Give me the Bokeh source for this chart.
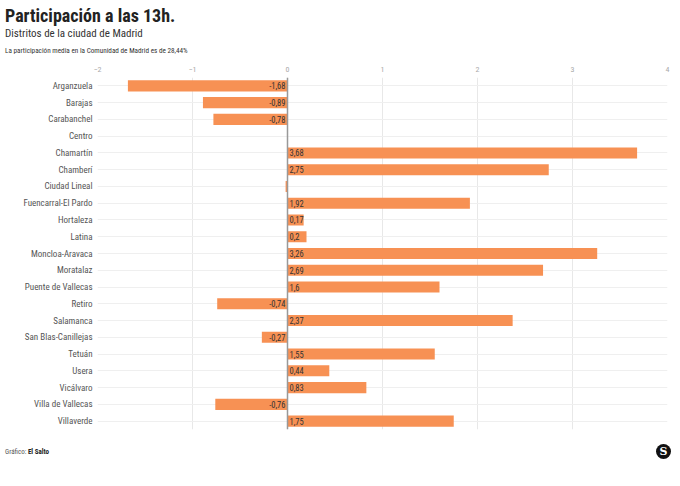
from bokeh.plotting import figure
from bokeh.models import FactorRange, Range1d, FixedTicker, Span, ColumnDataSource, Div
from bokeh.layouts import column
from bokeh.embed import file_html
from bokeh.resources import INLINE
from bokeh.core.properties import value

titulo = "Participación a las 13h."
subtitulo = "Distritos de la ciudad de Madrid"
nota = "La participación media en la Comunidad de Madrid es de 28,44%"
fuente = ("Gráfico:", "El Salto")

distritos = ["Arganzuela", "Barajas", "Carabanchel", "Centro", "Chamartín", "Chamberí",
             "Ciudad Lineal", "Fuencarral-El Pardo", "Hortaleza", "Latina", "Moncloa-Aravaca",
             "Moratalaz", "Puente de Vallecas", "Retiro", "Salamanca", "San Blas-Canillejas",
             "Tetuán", "Usera", "Vicálvaro", "Villa de Vallecas", "Villaverde"]
valores = [-1.68, -0.89, -0.78, float("nan"), 3.68, 2.75, -0.02, 1.92, 0.17, 0.2, 3.26,
           2.69, 1.6, -0.74, 2.37, -0.27, 1.55, 0.44, 0.83, -0.76, 1.75]
ticks_x = [-2, -1, 0, 1, 2, 3, 4]

FONT = "Roboto Condensed"
BAR = "#f79154"
W = 680
HEAD_H, FIG_H, FOOT_H = 56, 380, 50

header = Div(width=W, height=HEAD_H, margin=(0, 0, 0, 0), text=f"""
<div style="position:relative;width:{W}px;height:{HEAD_H}px;font-family:'Roboto Condensed';">
  <div style="position:absolute;left:5px;top:6.8px;font-size:18px;line-height:18px;font-weight:bold;color:#222;white-space:nowrap;">{titulo}</div>
  <div style="position:absolute;left:5px;top:27.7px;font-size:11px;line-height:11px;color:#333;white-space:nowrap;">{subtitulo}</div>
  <div style="position:absolute;left:5px;top:47px;font-size:7.2px;line-height:7.2px;color:#333;white-space:nowrap;">{nota}</div>
</div>""")

p = figure(width=W, height=FIG_H, output_backend="svg", toolbar_location=None,
           y_range=FactorRange(factors=list(reversed(distritos))),
           x_range=Range1d(-2, 4), x_axis_location="above",
           min_border_left=97, min_border_right=13, min_border_top=21,
           min_border_bottom=7, margin=(0, 0, 0, 0))
p.outline_line_color = None

p.xaxis.ticker = FixedTicker(ticks=ticks_x)
p.xaxis.axis_line_color = None
p.xaxis.major_tick_line_color = None
p.xaxis.minor_tick_line_color = None
p.xaxis.major_tick_out = 0
p.xaxis.major_label_text_font = FONT
p.xaxis.major_label_text_font_size = "8px"
p.xaxis.major_label_text_color = "#aaaaaa"
p.xaxis.major_label_standoff = 6

p.yaxis.axis_line_color = None
p.yaxis.major_tick_line_color = None
p.yaxis.minor_tick_line_color = None
p.yaxis.major_tick_out = 0
p.yaxis.major_label_text_font = FONT
p.yaxis.major_label_text_font_size = "9px"
p.yaxis.major_label_text_color = "#555555"
p.yaxis.major_label_standoff = 5

p.xgrid.ticker = FixedTicker(ticks=ticks_x)
p.xgrid.grid_line_color = "#e8e8e8"
p.ygrid.grid_line_color = "#efefef"

src = ColumnDataSource(dict(d=distritos, v=valores))
p.hbar(y="d", left=0, right="v", height=0.66, source=src, fill_color=BAR, line_color=None)

p.add_layout(Span(location=0, dimension="height", line_color="#999999", line_width=1.5))

pos_d = [d for d, v in zip(distritos, valores) if v == v and v >= 0.1]
pos_v = [v for v in valores if v == v and v >= 0.1]
neg_d = [d for d, v in zip(distritos, valores) if v == v and v <= -0.1]
neg_v = [v for v in valores if v == v and v <= -0.1]

def fmt(v):
    return ("%g" % v).replace(".", ",")

p.text(x=[0] * len(pos_d), y=pos_d, text=[fmt(v) for v in pos_v], x_offset=2,
       text_align="left", text_baseline="middle", text_font=value(FONT),
       text_font_size="8.5px", text_color="#333333")
p.text(x=[0] * len(neg_d), y=neg_d, text=[fmt(v) for v in neg_v], x_offset=-2,
       text_align="right", text_baseline="middle", text_font=value(FONT),
       text_font_size="8.5px", text_color="#333333")

footer = Div(width=W, height=FOOT_H, margin=(0, 0, 0, 0), text=f"""
<div style="position:relative;width:{W}px;height:{FOOT_H}px;font-family:'Roboto Condensed';">
  <div style="position:absolute;left:5px;top:13px;font-size:7px;line-height:7px;color:#555;white-space:nowrap;">{fuente[0]} <b style="color:#222;">{fuente[1]}</b></div>
  <div style="position:absolute;left:656px;top:8px;width:15px;height:15px;border-radius:50%;background:#111;color:#fff;font-family:'DejaVu Serif';font-weight:bold;font-size:11px;line-height:15px;text-align:center;">S</div>
</div>""")

layout = column(header, p, footer, spacing=0, margin=(0, 0, 0, 0))
open("out.html", "w").write(file_html(layout, INLINE))
